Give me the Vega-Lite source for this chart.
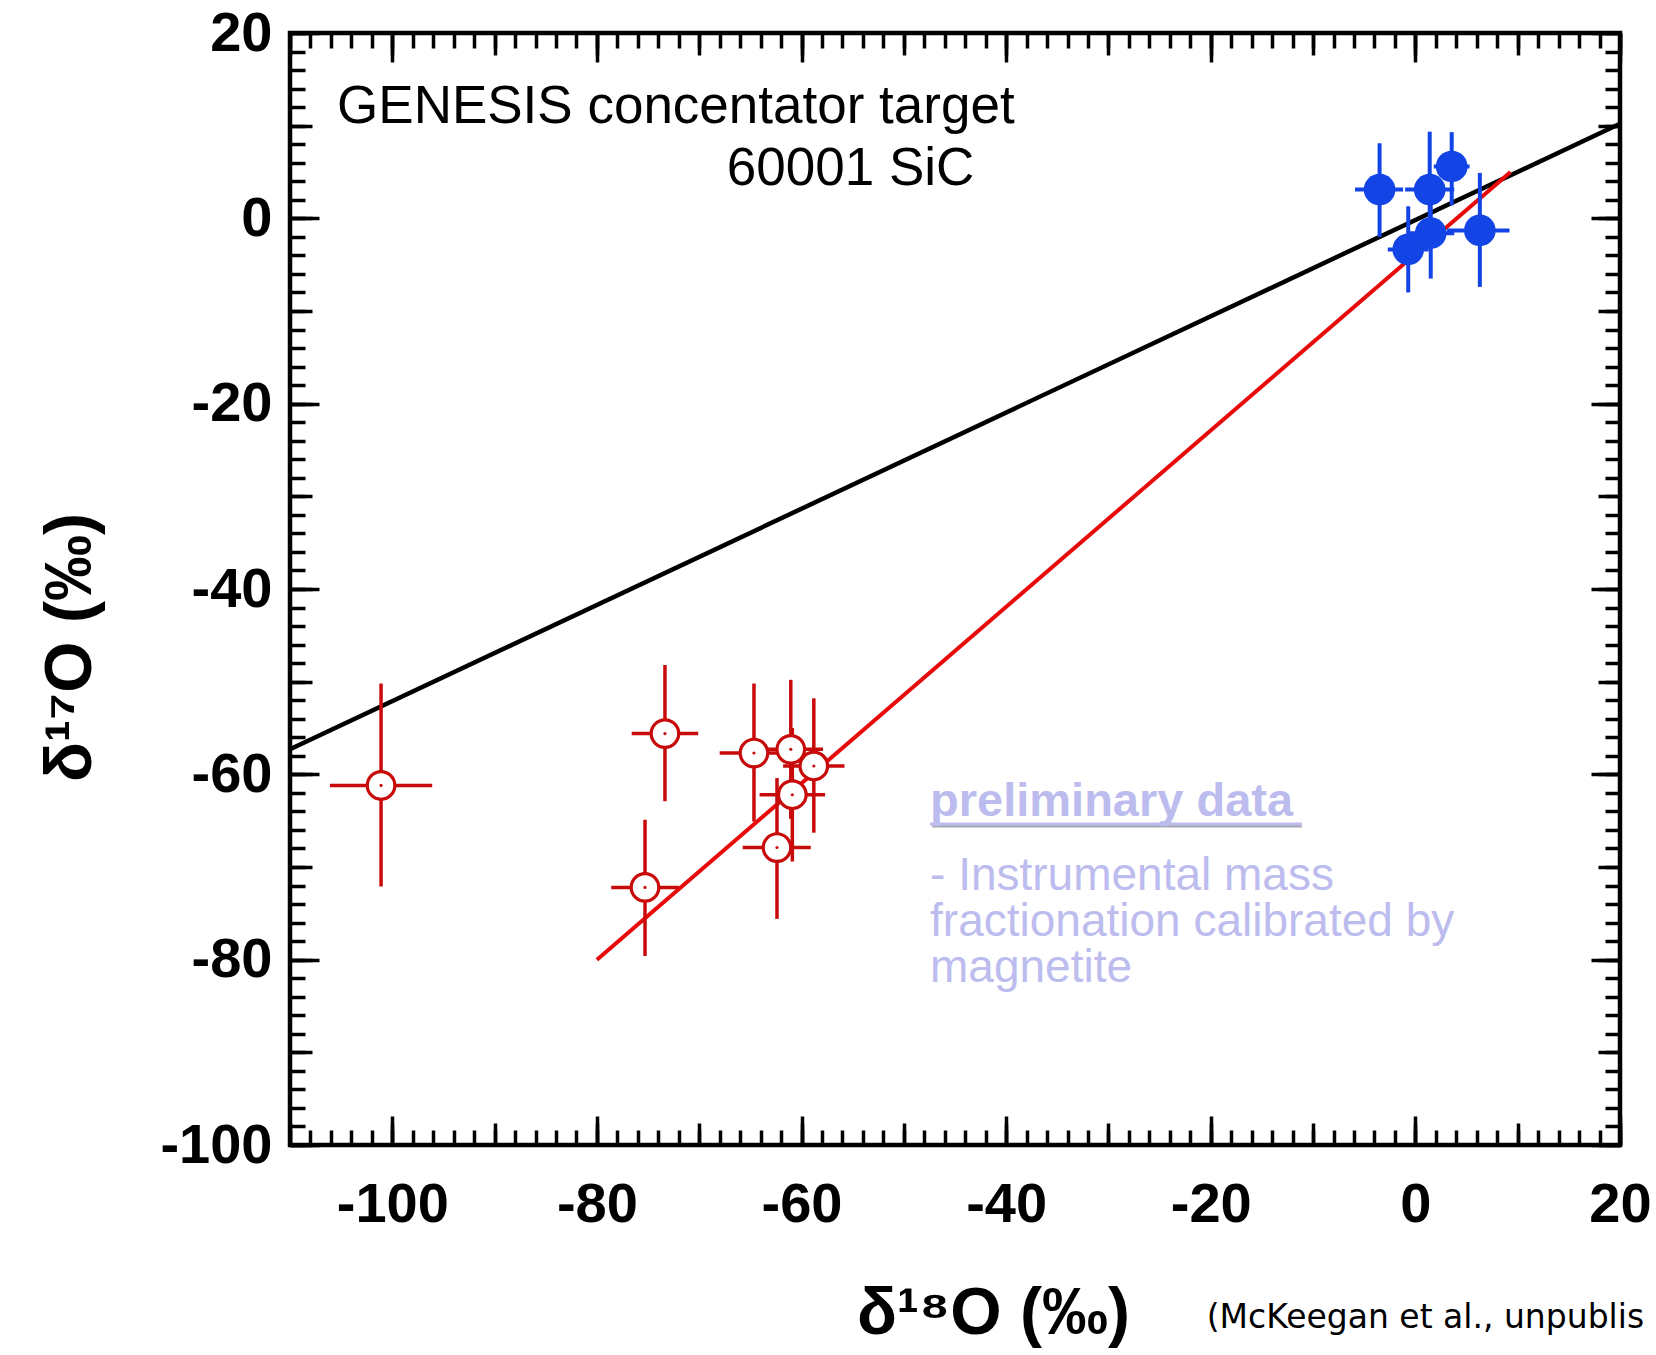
{
  "$schema": "https://vega.github.io/schema/vega-lite/v6.json",
  "width": 1330,
  "height": 1112,
  "autosize": {"type": "none"},
  "padding": {"left": 290, "top": 33, "right": 36, "bottom": 210},
  "background": "white",
  "config": {
    "view": {"stroke": "black", "strokeWidth": 4.5},
    "axis": {"grid": false, "domain": false, "tickColor": "black", "tickWidth": 3.5, "labelColor": "black", "titleColor": "black"}
  },
  "datasets": {
    "tfl": [{"d18": -110, "d17": -57.3}, {"d18": 20, "d17": 10.2}],
    "fit": [{"d18": -80, "d17": -80}, {"d18": 9.3, "d17": 5.0}],
    "red": [
      {"d18": -101.1, "d18lo": -106.1, "d18hi": -96.1, "d17": -61.2, "d17lo": -72.1, "d17hi": -50.2},
      {"d18": -73.35, "d18lo": -76.6, "d18hi": -70.1, "d17": -55.6, "d17lo": -62.9, "d17hi": -48.2},
      {"d18": -64.65, "d18lo": -68.0, "d18hi": -61.3, "d17": -57.7, "d17lo": -65.1, "d17hi": -50.2},
      {"d18": -61.05, "d18lo": -64.2, "d18hi": -57.9, "d17": -57.3, "d17lo": -64.8, "d17hi": -49.8},
      {"d18": -58.8, "d18lo": -61.8, "d18hi": -55.8, "d17": -59.1, "d17lo": -66.3, "d17hi": -51.8},
      {"d18": -60.9, "d18lo": -64.1, "d18hi": -57.7, "d17": -62.2, "d17lo": -69.4, "d17hi": -55.0},
      {"d18": -62.4, "d18lo": -65.75, "d18hi": -59.1, "d17": -67.9, "d17lo": -75.6, "d17hi": -60.4},
      {"d18": -75.3, "d18lo": -78.6, "d18hi": -72.0, "d17": -72.2, "d17lo": -79.6, "d17hi": -64.9}
    ],
    "blue": [
      {"d18": -3.5, "d18lo": -5.9, "d18hi": -1.2, "d17": 3.1, "d17lo": -2.0, "d17hi": 8.1},
      {"d18": 1.4, "d18lo": -1.0, "d18hi": 3.8, "d17": 3.1, "d17lo": -3.1, "d17hi": 9.35},
      {"d18": 3.55, "d18lo": 1.8, "d18hi": 5.3, "d17": 5.6, "d17lo": 1.4, "d17hi": 9.3},
      {"d18": 1.5, "d18lo": -0.8, "d18hi": 3.8, "d17": -1.6, "d17lo": -6.5, "d17hi": 3.3},
      {"d18": -0.7, "d18lo": -2.7, "d18hi": 1.3, "d17": -3.35, "d17lo": -8.0, "d17hi": 1.3},
      {"d18": 6.3, "d18lo": 3.1, "d18hi": 9.2, "d17": -1.3, "d17lo": -7.4, "d17hi": 4.9}
    ],
    "one": [{}]
  },
  "resolve": {"axis": {"x": "independent", "y": "independent"}},
  "layer": [
    {
      "data": {"name": "tfl"},
      "mark": {"type": "line", "color": "black", "strokeWidth": 4.5},
      "encoding": {
        "x": {"field": "d18", "type": "quantitative", "scale": {"domain": [-110, 20], "nice": false, "zero": false},
          "axis": {"orient": "bottom", "values": [-100, -80, -60, -40, -20, 0, 20], "tickSize": -29, "labels": true,
            "labelExpr": "'' + datum.value",
            "labelFont": "Liberation Sans", "labelFontWeight": "bold", "labelFontSize": 56, "labelPadding": 61,
            "labelFlush": false, "labelOverlap": false, "labelBound": false,
            "title": "δ¹⁸O (‰)", "titleFont": "Liberation Sans", "titleFontWeight": "bold", "titleFontSize": 66,
            "titleX": 703, "titleY": 188, "titleAlign": "center", "titleBaseline": "alphabetic", "titleAngle": 0}},
        "y": {"field": "d17", "type": "quantitative", "scale": {"domain": [-100, 20], "nice": false, "zero": false},
          "axis": {"orient": "left", "values": [-100, -80, -60, -40, -20, 0, 20], "tickSize": -29, "labels": true,
            "labelExpr": "'' + datum.value",
            "labelFont": "Liberation Sans", "labelFontWeight": "bold", "labelFontSize": 56, "labelPadding": 47,
            "labelFlush": false, "labelOverlap": false, "labelBound": false, "labelBaseline": "middle",
            "title": "δ¹⁷O (‰)", "titleFont": "Liberation Sans", "titleFontWeight": "bold", "titleFontSize": 66,
            "titleX": -200, "titleY": 614, "titleAlign": "center", "titleBaseline": "alphabetic", "titleAngle": -90}}
      }
    },
    {
      "data": {"name": "fit"},
      "mark": {"type": "line", "color": "#e80a0a", "strokeWidth": 4},
      "encoding": {
        "x": {"field": "d18", "type": "quantitative",
          "axis": {"orient": "bottom", "values": [-110, -100, -90, -80, -70, -60, -50, -40, -30, -20, -10, 0, 10, 20], "tickSize": -22, "labels": false, "title": null}},
        "y": {"field": "d17", "type": "quantitative",
          "axis": {"orient": "left", "values": [-100, -90, -80, -70, -60, -50, -40, -30, -20, -10, 0, 10, 20], "tickSize": -22, "labels": false, "title": null}}
      }
    },
    {
      "data": {"name": "red"},
      "mark": {"type": "rule", "color": "#c80a0a", "strokeWidth": 3.5},
      "encoding": {
        "x": {"field": "d18", "type": "quantitative",
          "axis": {"orient": "bottom", "values": [-110, -108, -106, -104, -102, -100, -98, -96, -94, -92, -90, -88, -86, -84, -82, -80, -78, -76, -74, -72, -70, -68, -66, -64, -62, -60, -58, -56, -54, -52, -50, -48, -46, -44, -42, -40, -38, -36, -34, -32, -30, -28, -26, -24, -22, -20, -18, -16, -14, -12, -10, -8, -6, -4, -2, 0, 2, 4, 6, 8, 10, 12, 14, 16, 18, 20], "tickSize": -15, "labels": false, "title": null}},
        "y": {"field": "d17lo", "type": "quantitative",
          "axis": {"orient": "left", "values": [-100, -98, -96, -94, -92, -90, -88, -86, -84, -82, -80, -78, -76, -74, -72, -70, -68, -66, -64, -62, -60, -58, -56, -54, -52, -50, -48, -46, -44, -42, -40, -38, -36, -34, -32, -30, -28, -26, -24, -22, -20, -18, -16, -14, -12, -10, -8, -6, -4, -2, 0, 2, 4, 6, 8, 10, 12, 14, 16, 18, 20], "tickSize": -15, "labels": false, "title": null}},
        "y2": {"field": "d17hi"}
      }
    },
    {
      "data": {"name": "red"},
      "mark": {"type": "rule", "color": "#c80a0a", "strokeWidth": 3.5},
      "encoding": {
        "x": {"field": "d18lo", "type": "quantitative",
          "axis": {"orient": "top", "values": [-100, -80, -60, -40, -20, 0, 20], "tickSize": -29, "labels": false, "title": null}},
        "x2": {"field": "d18hi"},
        "y": {"field": "d17", "type": "quantitative",
          "axis": {"orient": "right", "values": [-100, -80, -60, -40, -20, 0, 20], "tickSize": -29, "labels": false, "title": null}}
      }
    },
    {
      "data": {"name": "red"},
      "mark": {"type": "point", "shape": "circle", "filled": false, "fill": "white", "fillOpacity": 1, "stroke": "#c80a0a", "strokeWidth": 3.2, "size": 760, "opacity": 1},
      "encoding": {
        "x": {"field": "d18", "type": "quantitative",
          "axis": {"orient": "top", "values": [-110, -100, -90, -80, -70, -60, -50, -40, -30, -20, -10, 0, 10, 20], "tickSize": -22, "labels": false, "title": null}},
        "y": {"field": "d17", "type": "quantitative",
          "axis": {"orient": "right", "values": [-100, -90, -80, -70, -60, -50, -40, -30, -20, -10, 0, 10, 20], "tickSize": -22, "labels": false, "title": null}}
      }
    },
    {
      "data": {"name": "red"},
      "mark": {"type": "point", "shape": "circle", "filled": true, "color": "#c80a0a", "size": 10, "opacity": 1},
      "encoding": {
        "x": {"field": "d18", "type": "quantitative",
          "axis": {"orient": "top", "values": [-110, -108, -106, -104, -102, -100, -98, -96, -94, -92, -90, -88, -86, -84, -82, -80, -78, -76, -74, -72, -70, -68, -66, -64, -62, -60, -58, -56, -54, -52, -50, -48, -46, -44, -42, -40, -38, -36, -34, -32, -30, -28, -26, -24, -22, -20, -18, -16, -14, -12, -10, -8, -6, -4, -2, 0, 2, 4, 6, 8, 10, 12, 14, 16, 18, 20], "tickSize": -15, "labels": false, "title": null}},
        "y": {"field": "d17", "type": "quantitative",
          "axis": {"orient": "right", "values": [-100, -98, -96, -94, -92, -90, -88, -86, -84, -82, -80, -78, -76, -74, -72, -70, -68, -66, -64, -62, -60, -58, -56, -54, -52, -50, -48, -46, -44, -42, -40, -38, -36, -34, -32, -30, -28, -26, -24, -22, -20, -18, -16, -14, -12, -10, -8, -6, -4, -2, 0, 2, 4, 6, 8, 10, 12, 14, 16, 18, 20], "tickSize": -15, "labels": false, "title": null}}
      }
    },
    {
      "data": {"name": "blue"},
      "mark": {"type": "rule", "color": "#1244e6", "strokeWidth": 4},
      "encoding": {
        "x": {"field": "d18", "type": "quantitative", "axis": null},
        "y": {"field": "d17lo", "type": "quantitative", "axis": null},
        "y2": {"field": "d17hi"}
      }
    },
    {
      "data": {"name": "blue"},
      "mark": {"type": "rule", "color": "#1244e6", "strokeWidth": 4},
      "encoding": {
        "x": {"field": "d18lo", "type": "quantitative", "axis": null},
        "x2": {"field": "d18hi"},
        "y": {"field": "d17", "type": "quantitative", "axis": null}
      }
    },
    {
      "data": {"name": "blue"},
      "mark": {"type": "point", "shape": "circle", "filled": true, "color": "#1244e6", "size": 1000, "opacity": 1},
      "encoding": {
        "x": {"field": "d18", "type": "quantitative", "axis": null},
        "y": {"field": "d17", "type": "quantitative", "axis": null}
      }
    },
    {
      "data": {"name": "one"},
      "mark": {"type": "text", "text": "GENESIS concentator target", "font": "Liberation Sans", "fontSize": 53, "align": "left", "baseline": "alphabetic", "color": "black"},
      "encoding": {
        "x": {"datum": -105.4, "type": "quantitative", "axis": null},
        "y": {"datum": 10.3, "type": "quantitative", "axis": null}
      }
    },
    {
      "data": {"name": "one"},
      "mark": {"type": "text", "text": "60001 SiC", "font": "Liberation Sans", "fontSize": 53, "align": "left", "baseline": "alphabetic", "color": "black"},
      "encoding": {
        "x": {"datum": -67.3, "type": "quantitative", "axis": null},
        "y": {"datum": 3.62, "type": "quantitative", "axis": null}
      }
    },
    {
      "data": {"name": "one"},
      "mark": {"type": "rule", "color": "#a9a9b6", "strokeWidth": 3, "xOffset": 2, "yOffset": 2},
      "encoding": {
        "x": {"datum": -47.44, "type": "quantitative", "axis": null},
        "x2": {"datum": -11.1},
        "y": {"datum": -65.36, "type": "quantitative", "axis": null}
      }
    },
    {
      "data": {"name": "one"},
      "mark": {"type": "text", "text": "preliminary data", "font": "Liberation Sans", "fontWeight": "bold", "fontSize": 47, "align": "left", "baseline": "alphabetic", "color": "#bcbcee"},
      "encoding": {
        "x": {"datum": -47.44, "type": "quantitative", "axis": null},
        "y": {"datum": -64.5, "type": "quantitative", "axis": null}
      }
    },
    {
      "data": {"name": "one"},
      "mark": {"type": "rule", "color": "#bcbcee", "strokeWidth": 3},
      "encoding": {
        "x": {"datum": -47.44, "type": "quantitative", "axis": null},
        "x2": {"datum": -11.1},
        "y": {"datum": -65.36, "type": "quantitative", "axis": null}
      }
    },
    {
      "data": {"name": "one"},
      "mark": {"type": "text", "text": "- Instrumental mass", "font": "Liberation Sans", "fontSize": 46, "align": "left", "baseline": "alphabetic", "color": "#bcbcee"},
      "encoding": {
        "x": {"datum": -47.44, "type": "quantitative", "axis": null},
        "y": {"datum": -72.48, "type": "quantitative", "axis": null}
      }
    },
    {
      "data": {"name": "one"},
      "mark": {"type": "text", "text": "fractionation calibrated by", "font": "Liberation Sans", "fontSize": 46, "align": "left", "baseline": "alphabetic", "color": "#bcbcee"},
      "encoding": {
        "x": {"datum": -47.44, "type": "quantitative", "axis": null},
        "y": {"datum": -77.44, "type": "quantitative", "axis": null}
      }
    },
    {
      "data": {"name": "one"},
      "mark": {"type": "text", "text": "magnetite", "font": "Liberation Sans", "fontSize": 46, "align": "left", "baseline": "alphabetic", "color": "#bcbcee"},
      "encoding": {
        "x": {"datum": -47.44, "type": "quantitative", "axis": null},
        "y": {"datum": -82.41, "type": "quantitative", "axis": null}
      }
    },
    {
      "data": {"name": "one"},
      "mark": {"type": "text", "text": "(McKeegan et al., unpublis", "font": "DejaVu Sans", "fontSize": 33, "align": "left", "baseline": "alphabetic", "color": "black"},
      "encoding": {
        "x": {"datum": -20.4, "type": "quantitative", "axis": null},
        "y": {"datum": -119.7, "type": "quantitative", "axis": null}
      }
    }
  ]
}
